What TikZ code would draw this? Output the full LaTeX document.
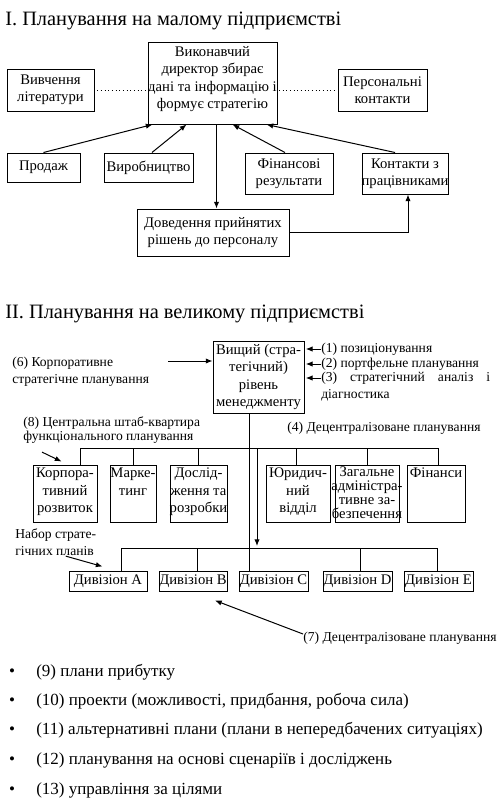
\documentclass[tikz,border=0pt]{standalone}
\usepackage{fontspec}
\setmainfont{Liberation Serif}
\usetikzlibrary{arrows.meta,fit,calc}
\begin{document}
\begin{tikzpicture}[x=0.75pt,y=-0.75pt]
\tikzset{
  box/.style={draw, line width=0.75pt, inner sep=0pt},
  txt/.style={font=\fontsize{11}{13}\selectfont, align=center, inner sep=0pt},
  ltxt/.style={font=\fontsize{10.2}{12.6}\selectfont, align=left, inner sep=0pt},
  ttl/.style={font=\fontsize{15.3}{18}\selectfont, inner sep=0pt, anchor=base west},
  btxt/.style={font=\fontsize{12.75}{15}\selectfont, inner sep=0pt, anchor=base west},
  bdot/.style={font=\fontsize{12.75}{15}\selectfont, inner sep=0pt, anchor=base},
  ln/.style={line width=0.75pt},
  arr/.style={line width=0.75pt, -{Latex[length=5pt,width=4pt]}},
  dots/.style={line width=0.75pt, dotted},
}
\useasboundingbox (0,0) rectangle (502,808);
\fill[white] (0,0) rectangle (502,808);

% ---------- Section I ----------
\node[ttl] (t1) at (5,25) {I. Планування на малому підприємстві};

\node[box, fit={(148,42)(277,124)}] (ceo) {};
\node[txt] (ceoT) at ([yshift=3pt]ceo.center) {Виконавчий\\директор збирає\\дані та інформацію і\\формує стратегію};

\node[box, fit={(7,69)(94,111)}] (lit) {};
\node[txt] (litT) at (lit.center) {Вивчення\\літератури};
\node[box, fit={(338,69)(427,111)}] (pers) {};
\node[txt] (persT) at (pers.center) {Персональні\\контакти};

\node[box, fit={(7,153)(80,182)}] (sales) {};
\node[txt] (salesT) at (sales.center) {Продаж};
\node[box, fit={(104,153)(193,182)}] (prod) {};
\node[txt] (prodT) at (prod.center) {Виробництво};
\node[box, fit={(245,153)(333,194)}] (fin) {};
\node[txt] (finT) at (fin.center) {Фінансові\\результати};
\node[box, fit={(362,153)(448,194)}] (cont) {};
\node[txt] (contT) at (cont.center) {Контакти з\\працівниками};
\node[box, fit={(137,209)(289,256)}] (comm) {};
\node[txt] (commT) at (comm.center) {Доведення прийнятих\\рішень до персоналу};

\draw[dots, shorten <=2pt, shorten >=1pt] (lit.east) -- (lit.east -| ceo.west);
\draw[dots, shorten <=1pt, shorten >=2pt] (pers.west -| ceo.east) -- (pers.west);

\draw[arr] (sales.north) -- ([xshift=3.75pt]ceo.south west);
\draw[arr] ([xshift=2.6pt]prod.north) -- ([xshift=29.25pt]ceo.south west);
\draw[arr] ([xshift=-3pt]fin.north) -- ([xshift=63.75pt]ceo.south west);
\draw[arr] ([xshift=-7.5pt]cont.north) -- ([xshift=89.25pt]ceo.south west);
\coordinate (cv) at ([xshift=3pt]ceo.south);
\draw[arr] (cv) -- (cv |- comm.north);
\draw[arr] (comm.east) -| ([xshift=2.25pt]cont.south);

% ---------- Section II ----------
\node[ttl] (t2) at (5,318) {II. Планування на великому підприємстві};

\node[box, fit={(213,341)(304,413)}] (top2) {};
\node[txt] (top2T) at (top2.center) {Вищий (стра-\\тегічний)\\рівень\\менеджменту};

\node[ltxt, anchor=west] (l6) at (12,371.5) {(6) Корпоративне\\стратегічне планування};
\coordinate (a6) at (168,361);
\draw[arr] (a6) -- (a6 -| top2.west);

\node[ltxt, anchor=west] (l1) at (321,349) {(1) позиціонування};
\node[ltxt, anchor=west] (l2) at (321,364) {(2) портфельне планування};
\node[ltxt, anchor=west] (l3) at (321,378) {\hbox to 126.75pt{(3)\hfill стратегічний\hfill аналіз\hfill і}};
\node[ltxt, anchor=west] (l3b) at (321,395) {діагностика};
\draw[arr, shorten >=1pt] (l1.west) -- (l1.west -| top2.east);
\draw[arr, shorten >=1pt] (l2.west) -- (l2.west -| top2.east);
\draw[arr, shorten >=1pt] (l3.west) -- (l3.west -| top2.east);

\node[ltxt, anchor=west, font=\fontsize{10.2}{10.5}\selectfont] (l8) at (23,430.5) {(8) Центральна штаб-квартира\\функціонального планування};
\node[ltxt, anchor=west] (l4) at (287,428) {(4) Децентралізоване планування};

\node[box, fit={(33,465)(97,522)}] (corp) {};
\node[txt, anchor=north] (corpT) at ([yshift=-2.5pt]corp.north) {Корпора-\\тивний\\розвиток};
\node[box, fit={(110,465)(156,522)}] (mkt) {};
\node[txt, anchor=north] (mktT) at ([yshift=-2.5pt]mkt.north) {Марке-\\тинг};
\node[box, fit={(170,465)(227,522)}] (res) {};
\node[txt, anchor=north] (resT) at ([yshift=-2.5pt]res.north) {Дослід-\\ження та\\розробки};
\node[box, fit={(266,465)(330,522)}] (jur) {};
\node[txt, anchor=north] (jurT) at ([yshift=-2.5pt]jur.north) {Юридич-\\ний\\відділ};
\node[box, fit={(335,465)(399,522)}] (adm) {};
\node[txt, anchor=north, font=\fontsize{11}{10.5}\selectfont] (admT) at ([yshift=-1.5pt]adm.north) {Загальне\\адміністра-\\тивне за-\\безпечення};
\node[box, fit={(407,465)(465,522)}] (fin2) {};
\node[txt, anchor=north] (fin2T) at ([yshift=-2.5pt]fin2.north) {Фінанси};

\coordinate (busL) at (80,448);
\coordinate (busR) at (438,448);
\draw[ln] (corp.north -| busL) -- (busL) -- (busR) -- (busR |- fin2.north);
\draw[ln] (mkt.north) -- (mkt.north |- busL);
\draw[ln] (res.north) -- (res.north |- busL);
\draw[ln] ([xshift=-1.5pt]jur.north) -- ([xshift=-1.5pt]jur.north |- busL);
\draw[ln] (adm.north) -- (adm.north |- busL);

\node[box, fit={(69,571)(147,591)}] (divA) {};
\node[txt] (divAT) at (divA.center) {Дивізіон A};
\node[box, fit={(159,571)(227,591)}] (divB) {};
\node[txt] (divBT) at (divB.center) {Дивізіон B};
\node[box, fit={(239,571)(308,591)}] (divC) {};
\node[txt] (divCT) at (divC.center) {Дивізіон C};
\node[box, fit={(323,571)(392,591)}] (divD) {};
\node[txt] (divDT) at (divD.center) {Дивізіон D};
\node[box, fit={(404,571)(473,591)}] (divE) {};
\node[txt] (divET) at (divE.center) {Дивізіон E};

\coordinate (vm) at ([xshift=-7.125pt]top2.south);
\draw[ln] (vm) -- (vm |- divC.north);
\coordinate (dbL) at (121,548);
\coordinate (dbR) at (437,548);
\coordinate (v2) at (257,448);
\draw[arr, shorten >=1.5pt] (v2) -- (v2 |- dbL);
\draw[ln] (divA.north -| dbL) -- (dbL) -- (dbR) -- (dbR |- divE.north);
\coordinate (bB) at ([xshift=3pt]divB.north);
\draw[ln] (bB) -- (bB |- dbL);
\coordinate (bD) at ([xshift=2pt]divD.north);
\draw[ln] (bD) -- (bD |- dbL);

\node[ltxt, anchor=west] (lnab) at (15,542.5) {Набор страте-\\гічних планів};
\draw[arr] ([shift={(7.5pt,0pt)}]lnab.south) -- ([shift={(25.5pt,3pt)}]divA.north west);
\draw[arr] ([shift={(14.25pt,-6pt)}]l8.south west) -- ([shift={(21.75pt,2.25pt)}]corp.north west);

\node[ltxt, anchor=west] (l7) at (303,638) {(7) Децентралізоване планування};
\draw[arr] ([yshift=3pt]l7.west) -- ([shift={(16.5pt,-6.75pt)}]divB.south);

% ---------- Bullets ----------
\node[bdot] (d9) at (12,676) {•};
\node[btxt] (b9) at (36,676) {(9) плани прибутку};
\node[bdot] (d10) at (12,705) {•};
\node[btxt] (b10) at (36,705) {(10) проекти (можливості, придбання, робоча сила)};
\node[bdot] (d11) at (12,734) {•};
\node[btxt] (b11) at (36,734) {(11) альтернативні плани (плани в непередбачених ситуаціях)};
\node[bdot] (d12) at (12,764) {•};
\node[btxt] (b12) at (36,764) {(12) планування на основі сценаріїв і досліджень};
\node[bdot] (d13) at (12,794) {•};
\node[btxt] (b13) at (36,794) {(13) управління за цілями};
\end{tikzpicture}
\end{document}
